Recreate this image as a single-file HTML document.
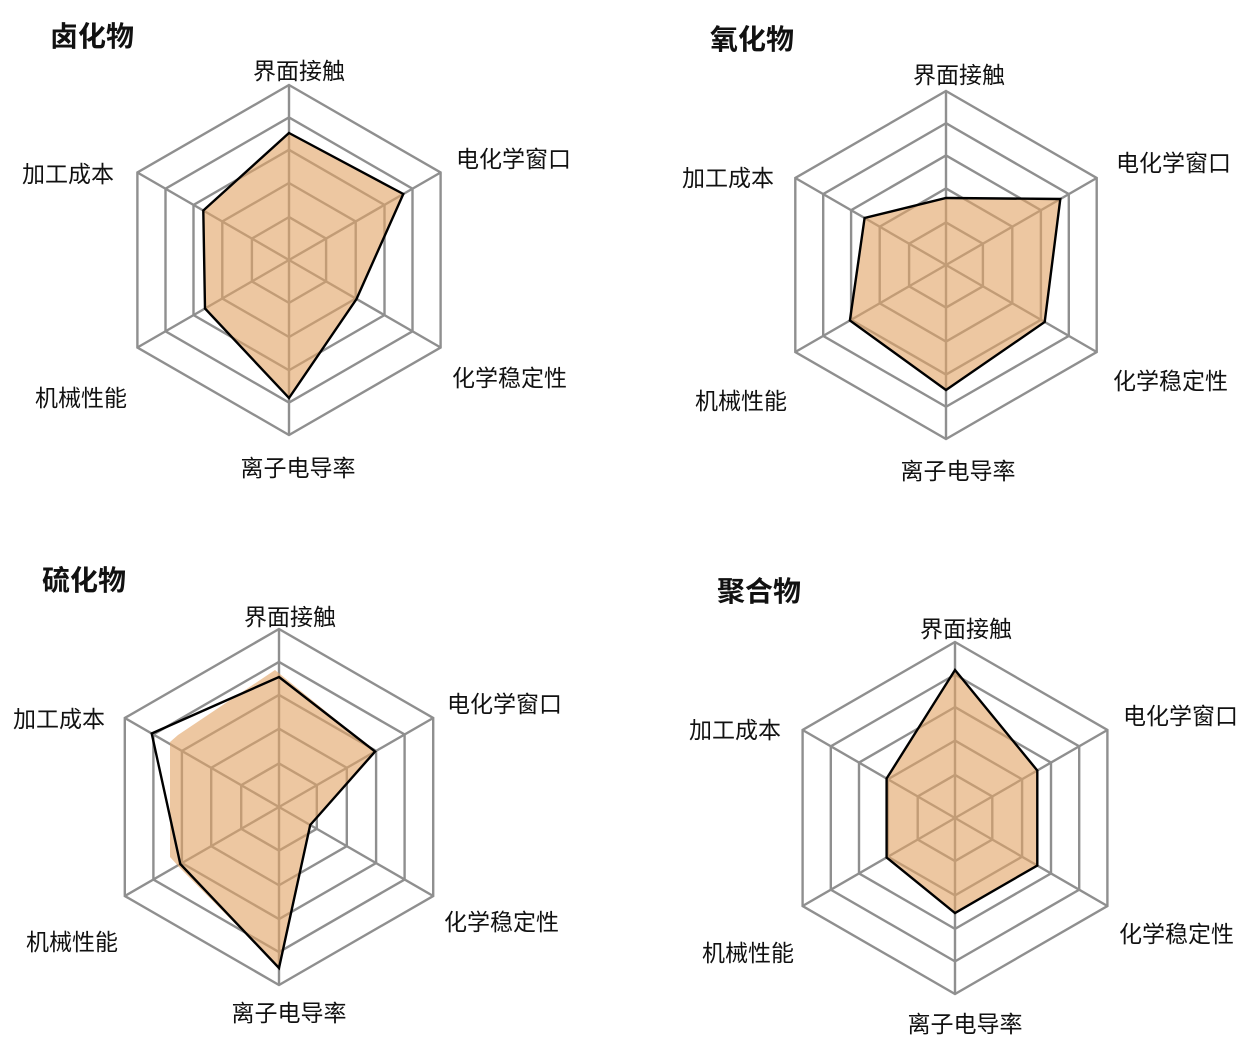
<!DOCTYPE html>
<html><head><meta charset="utf-8">
<style>
html,body{margin:0;padding:0;background:#fff;}
svg{display:block;}
text{font-family:"Liberation Sans","Noto Sans CJK SC",sans-serif;fill:#111;}
.t{font-size:28px;font-weight:bold;}
.l{font-size:23px;}
</style></head>
<body>
<svg id="s" width="1254" height="1044" viewBox="0 0 1254 1044" xmlns="http://www.w3.org/2000/svg">
<g id="g"></g>
<text class="t" x="50" y="46">卤化物</text>
<text class="l" x="299" y="79" text-anchor="middle">界面接触</text>
<text class="l" x="456" y="167">电化学窗口</text>
<text class="l" x="452" y="386">化学稳定性</text>
<text class="l" x="298" y="476" text-anchor="middle">离子电导率</text>
<text class="l" x="35" y="406">机械性能</text>
<text class="l" x="22" y="182">加工成本</text>

<text class="t" x="710" y="49">氧化物</text>
<text class="l" x="959" y="83" text-anchor="middle">界面接触</text>
<text class="l" x="1116" y="171">电化学窗口</text>
<text class="l" x="1113" y="389">化学稳定性</text>
<text class="l" x="958" y="479" text-anchor="middle">离子电导率</text>
<text class="l" x="695" y="409">机械性能</text>
<text class="l" x="682" y="186">加工成本</text>

<text class="t" x="42" y="590">硫化物</text>
<text class="l" x="290" y="625" text-anchor="middle">界面接触</text>
<text class="l" x="447" y="712">电化学窗口</text>
<text class="l" x="444" y="930">化学稳定性</text>
<text class="l" x="289" y="1021" text-anchor="middle">离子电导率</text>
<text class="l" x="26" y="950">机械性能</text>
<text class="l" x="13" y="727">加工成本</text>

<text class="t" x="717" y="601">聚合物</text>
<text class="l" x="966" y="637" text-anchor="middle">界面接触</text>
<text class="l" x="1123" y="724">电化学窗口</text>
<text class="l" x="1119" y="942">化学稳定性</text>
<text class="l" x="965" y="1032" text-anchor="middle">离子电导率</text>
<text class="l" x="702" y="961">机械性能</text>
<text class="l" x="689" y="738">加工成本</text>
</svg>
<script>
(function(){
var g=document.getElementById('g'),NS='http://www.w3.org/2000/svg';
function pt(cx,cy,r,i){var a=(-90+60*i)*Math.PI/180;return (cx+r*Math.cos(a)).toFixed(1)+','+(cy+r*Math.sin(a)).toFixed(1);}
function hex(cx,cy,rs){return rs.map(function(r,i){return pt(cx,cy,r,i);}).join(' ');}
function el(n,a){var e=document.createElementNS(NS,n);for(var k in a)e.setAttribute(k,a[k]);g.appendChild(e);return e;}
var charts=[
 {c:[289,260],R:175,d:[127,132,78,138,97,99]},
 {c:[946,265],R:174,d:[67,132,114,125,111,94]},
 {c:[279,807],R:178,d:[130,111,36,161,114,147],fill:"275,670 178,735 170,742 170,857 180,868"},
 {c:[955,818],R:176,d:[148,95,95,95,79,79]}
];
charts.forEach(function(ch){
 var cx=ch.c[0],cy=ch.c[1],R=ch.R;
 [0.245,0.44,0.63,0.815,1].forEach(function(f){
  var r=R*f;el('polygon',{points:hex(cx,cy,[r,r,r,r,r,r]),fill:'none',stroke:'#8f8f8f','stroke-width':2.4});
 });
 for(var i=0;i<6;i++){var p=pt(cx,cy,R,i).split(',');el('line',{x1:cx,y1:cy,x2:p[0],y2:p[1],stroke:'#8f8f8f','stroke-width':2.4});}
 var poly=hex(cx,cy,ch.d);
 var fp=poly;
 if(ch.fill){var pts=poly.split(' ');fp=ch.fill+' '+pts[3]+' '+pts[2]+' '+pts[1];}
 el('polygon',{points:fp,fill:'#e2a468','fill-opacity':0.62,stroke:'none'});
 el('polygon',{points:poly,fill:'none',stroke:'#000','stroke-width':2.4,'stroke-linejoin':'miter'});
});
})();
</script>
</body></html>
